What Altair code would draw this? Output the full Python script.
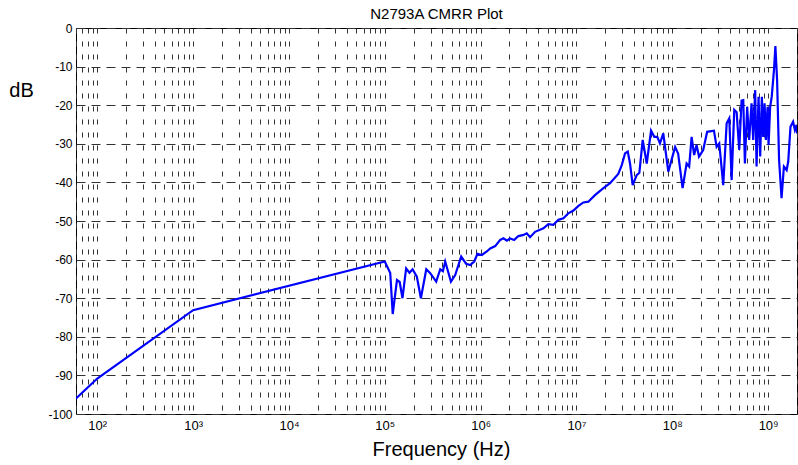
import altair as alt
import pandas as pd

# Measured common-mode rejection of the N2793A probe
freq_hz = [
    60, 100, 1000, 1.0e5, 1.14e5, 1.21e5, 1.34e5, 1.43e5, 1.53e5, 1.67e5,
    1.81e5, 1.95e5, 2.16e5, 2.38e5, 2.71e5, 2.98e5, 3.44e5, 3.79e5, 4.04e5, 4.27e5,
    4.90e5, 5.43e5, 6.27e5, 7.06e5, 7.78e5, 8.57e5, 9.27e5, 1.03e6, 1.16e6, 1.26e6,
    1.42e6, 1.60e6, 1.73e6, 1.88e6, 2.03e6, 2.24e6, 2.48e6, 2.80e6, 3.03e6, 3.28e6,
    3.70e6, 4.52e6, 5.09e6, 5.74e6, 6.48e6, 7.31e6, 8.24e6, 9.29e6, 1.05e7, 1.18e7,
    1.33e7, 1.56e7, 1.91e7, 2.24e7, 2.73e7, 2.97e7, 3.21e7, 3.43e7, 3.62e7, 3.86e7,
    4.25e7, 4.53e7, 4.91e7, 5.41e7, 6.00e7, 6.49e7, 6.97e7, 7.43e7, 8.05e7, 9.08e7,
    1.07e8, 1.15e8, 1.28e8, 1.41e8, 1.50e8, 1.59e8, 1.69e8, 1.79e8, 1.90e8, 2.10e8,
    2.31e8, 2.72e8, 2.90e8, 3.09e8, 3.40e8, 3.69e8, 3.93e8, 4.16e8, 4.43e8, 4.69e8,
    4.99e8, 5.28e8, 5.50e8, 5.72e8, 6.04e8, 6.34e8, 6.71e8, 6.98e8, 7.32e8, 7.57e8,
    7.94e8, 8.26e8, 8.60e8, 8.87e8, 9.18e8, 9.47e8, 9.86e8, 1.01e9, 1.05e9, 1.09e9,
    1.15e9, 1.19e9, 1.24e9, 1.30e9, 1.38e9, 1.46e9, 1.56e9, 1.62e9, 1.71e9, 1.82e9,
    1.90e9, 1.98e9, 2.0e9,
]
cmrr_db = [
    -96.0, -90.8, -73.1, -60.5, -63.5, -74.1, -65.3, -65.8, -70.0, -62.3,
    -63.4, -62.5, -64.4, -70.0, -62.5, -63.5, -65.7, -62.5, -63.0, -60.5,
    -65.7, -64.0, -59.2, -61.1, -61.4, -60.5, -58.5, -58.8, -57.9, -57.1,
    -56.5, -54.9, -54.5, -55.1, -54.5, -54.9, -53.9, -53.6, -53.2, -54.2,
    -52.8, -51.9, -50.8, -51.0, -49.7, -49.3, -48.0, -47.3, -46.1, -45.2,
    -45.0, -43.3, -41.5, -40.2, -37.8, -35.5, -32.5, -32.0, -35.1, -40.7,
    -38.1, -37.5, -29.0, -35.1, -26.6, -28.2, -28.2, -29.9, -27.3, -37.2,
    -30.8, -32.5, -41.5, -35.1, -35.9, -28.2, -32.9, -30.3, -33.3, -31.6,
    -26.9, -26.6, -30.8, -29.9, -40.7, -24.7, -23.4, -39.4, -21.2, -21.8,
    -31.6, -18.8, -18.7, -35.1, -20.4, -29.0, -19.5, -29.0, -16.1, -35.9,
    -17.8, -33.3, -17.8, -28.2, -19.5, -29.0, -20.4, -30.3, -20.4, -17.8,
    -10.9, -4.7, -13.5, -34.2, -44.1, -35.9, -36.8, -34.6, -25.6, -24.3,
    -26.4, -25.1, -27.3,
]

# Axis extents and tick positions
x_range = [60, 2e9]
y_range = [-100, 0]
decades = [1, 10, 100, 1e3, 1e4, 1e5, 1e6, 1e7, 1e8, 1e9]
mantissas = [1, 2, 3, 4, 5, 6, 7, 8, 9]
y_ticks = [-100, -90, -80, -70, -60, -50, -40, -30, -20, -10, 0]

x_ticks = [d * m for d in decades for m in mantissas if x_range[0] <= d * m <= x_range[1]]

df = pd.DataFrame({"freq": freq_hz, "db": cmrr_db})

LOG = "log(datum.value)/LN10"
x_label_expr = (
    f"abs({LOG} - round({LOG})) < 0.001 ? "
    f"'10' + substring('⁰¹²³⁴⁵⁶⁷⁸⁹', round({LOG}), round({LOG}) + 1) : ''"
)

grid_color = "#333333"

chart = (
    alt.Chart(df)
    .mark_line(color="#0000ff", strokeWidth=2.2, clip=True)
    .encode(
        x=alt.X(
            "freq:Q",
            scale=alt.Scale(type="log", domain=x_range, nice=False),
            axis=alt.Axis(
                values=x_ticks,
                labelExpr=x_label_expr,
                labelOverlap=False,
                labelFlush=False,
                labelFont="Liberation Sans",
                labelFontSize=13,
                labelColor="#000",
                labelPadding=5,
                ticks=False,
                domain=False,
                grid=True,
                gridColor=grid_color,
                gridDash=[5, 8],
                gridWidth=1,
                title="Frequency (Hz)",
                titleFont="Liberation Sans",
                titleFontSize=20,
                titleFontWeight="normal",
                titleColor="#000",
                titleAlign="center",
                titleBaseline="alphabetic",
                titleX=365,
                titleY=41,
            ),
        ),
        y=alt.Y(
            "db:Q",
            scale=alt.Scale(domain=y_range, nice=False),
            axis=alt.Axis(
                values=y_ticks,
                labelExpr="'' + datum.value",
                labelFont="Liberation Sans",
                labelFontSize=12,
                labelColor="#000",
                labelPadding=4,
                ticks=False,
                domain=False,
                grid=True,
                gridColor=grid_color,
                gridDash=[9, 6],
                gridWidth=1,
                title="dB",
                titleFont="Liberation Sans",
                titleFontSize=20,
                titleFontWeight="normal",
                titleColor="#000",
                titleAngle=0,
                titleAlign="center",
                titleBaseline="middle",
                titleX=-55,
                titleY=62,
            ),
        ),
    )
    .properties(
        width=721,
        height=386,
        title=alt.TitleParams(
            "N2793A CMRR Plot",
            font="Liberation Sans",
            fontSize=15,
            fontWeight="normal",
            color="#000",
            anchor="middle",
            frame="group",
            offset=0,
        ),
        autosize=alt.AutoSizeParams(type="none"),
        padding={"left": 76, "top": 28, "right": 1, "bottom": 51},
        background="white",
    )
    .configure_view(stroke="#000", strokeWidth=1)
)

chart.save("out.html", embed_options={"renderer": "svg", "actions": False})
